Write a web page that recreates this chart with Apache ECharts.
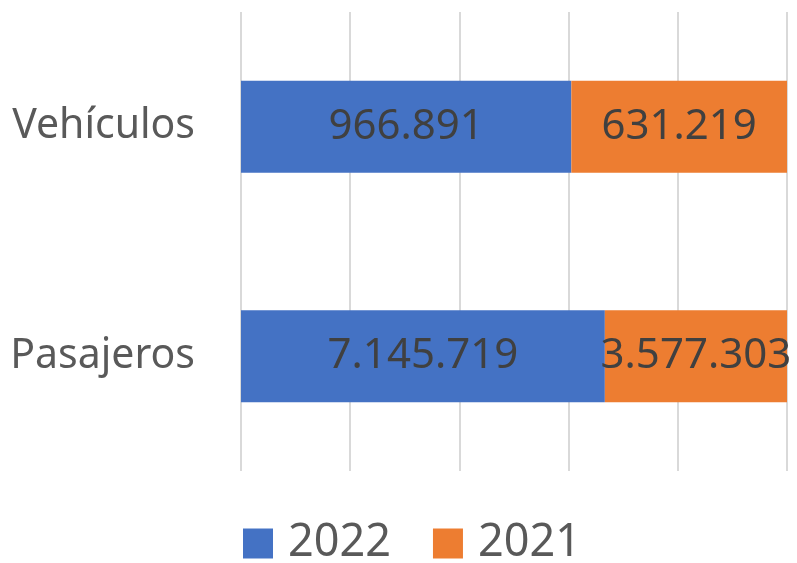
<!DOCTYPE html>
<html>
<head>
<meta charset="utf-8">
<script src="https://cdn.jsdelivr.net/npm/echarts@6/dist/echarts.min.js"></script>
<style>
  html, body { margin: 0; padding: 0; background: #fff; }
  #chart { width: 797px; height: 563px; }
</style>
</head>
<body>
<div id="chart"></div>
<script>
// categorías y valores
var categories = ['Vehículos', 'Pasajeros'];
var values2022 = [966891, 7145719];
var values2021 = [631219, 3577303];

// formato con punto como separador de miles
function fmt(n) {
  return String(n).replace(/\B(?=(\d{3})+(?!\d))/g, '.');
}

// porcentaje de cada año sobre el total de la categoría
var totals = categories.map(function (c, i) { return values2022[i] + values2021[i]; });
var pct2022 = values2022.map(function (v, i) { return { value: v / totals[i] * 100, raw: v }; });
var pct2021 = values2021.map(function (v, i) { return { value: v / totals[i] * 100, raw: v }; });

var myChart = echarts.init(document.getElementById('chart'));
var font = 'Noto Sans';

var labelCfg = {
  show: true,
  position: 'inside',
  fontFamily: font,
  fontSize: 42,
  color: '#404040',
  formatter: function (p) { return fmt(p.data.raw); }
};

myChart.setOption({
  animation: false,
  textStyle: { fontFamily: font },
  grid: { left: 241, right: 10, top: 12, bottom: 92 },
  legend: {
    top: 516,
    left: 238,
    itemWidth: 30,
    itemHeight: 30,
    itemGap: 42,
    icon: 'rect',
    textStyle: { fontFamily: font, fontSize: 45, color: '#595959', padding: [0, 0, 0, 10] },
    data: ['2022', '2021']
  },
  xAxis: {
    type: 'value',
    min: 0,
    max: 100,
    interval: 20,
    axisLabel: { show: false },
    axisLine: { show: false },
    axisTick: { show: false },
    splitLine: { show: true, lineStyle: { color: '#d9d9d9', width: 2 } }
  },
  yAxis: {
    type: 'category',
    inverse: true,
    data: categories,
    axisLine: { show: false },
    axisTick: { show: false },
    axisLabel: { margin: 46, fontFamily: font, fontSize: 41, color: '#595959' }
  },
  series: [
    {
      name: '2022',
      type: 'bar',
      stack: 'total',
      barWidth: '40%',
      itemStyle: { color: '#4472c4' },
      label: labelCfg,
      data: pct2022
    },
    {
      name: '2021',
      type: 'bar',
      stack: 'total',
      barWidth: '40%',
      itemStyle: { color: '#ed7d31' },
      label: labelCfg,
      data: pct2021
    }
  ]
});
</script>
</body>
</html>
